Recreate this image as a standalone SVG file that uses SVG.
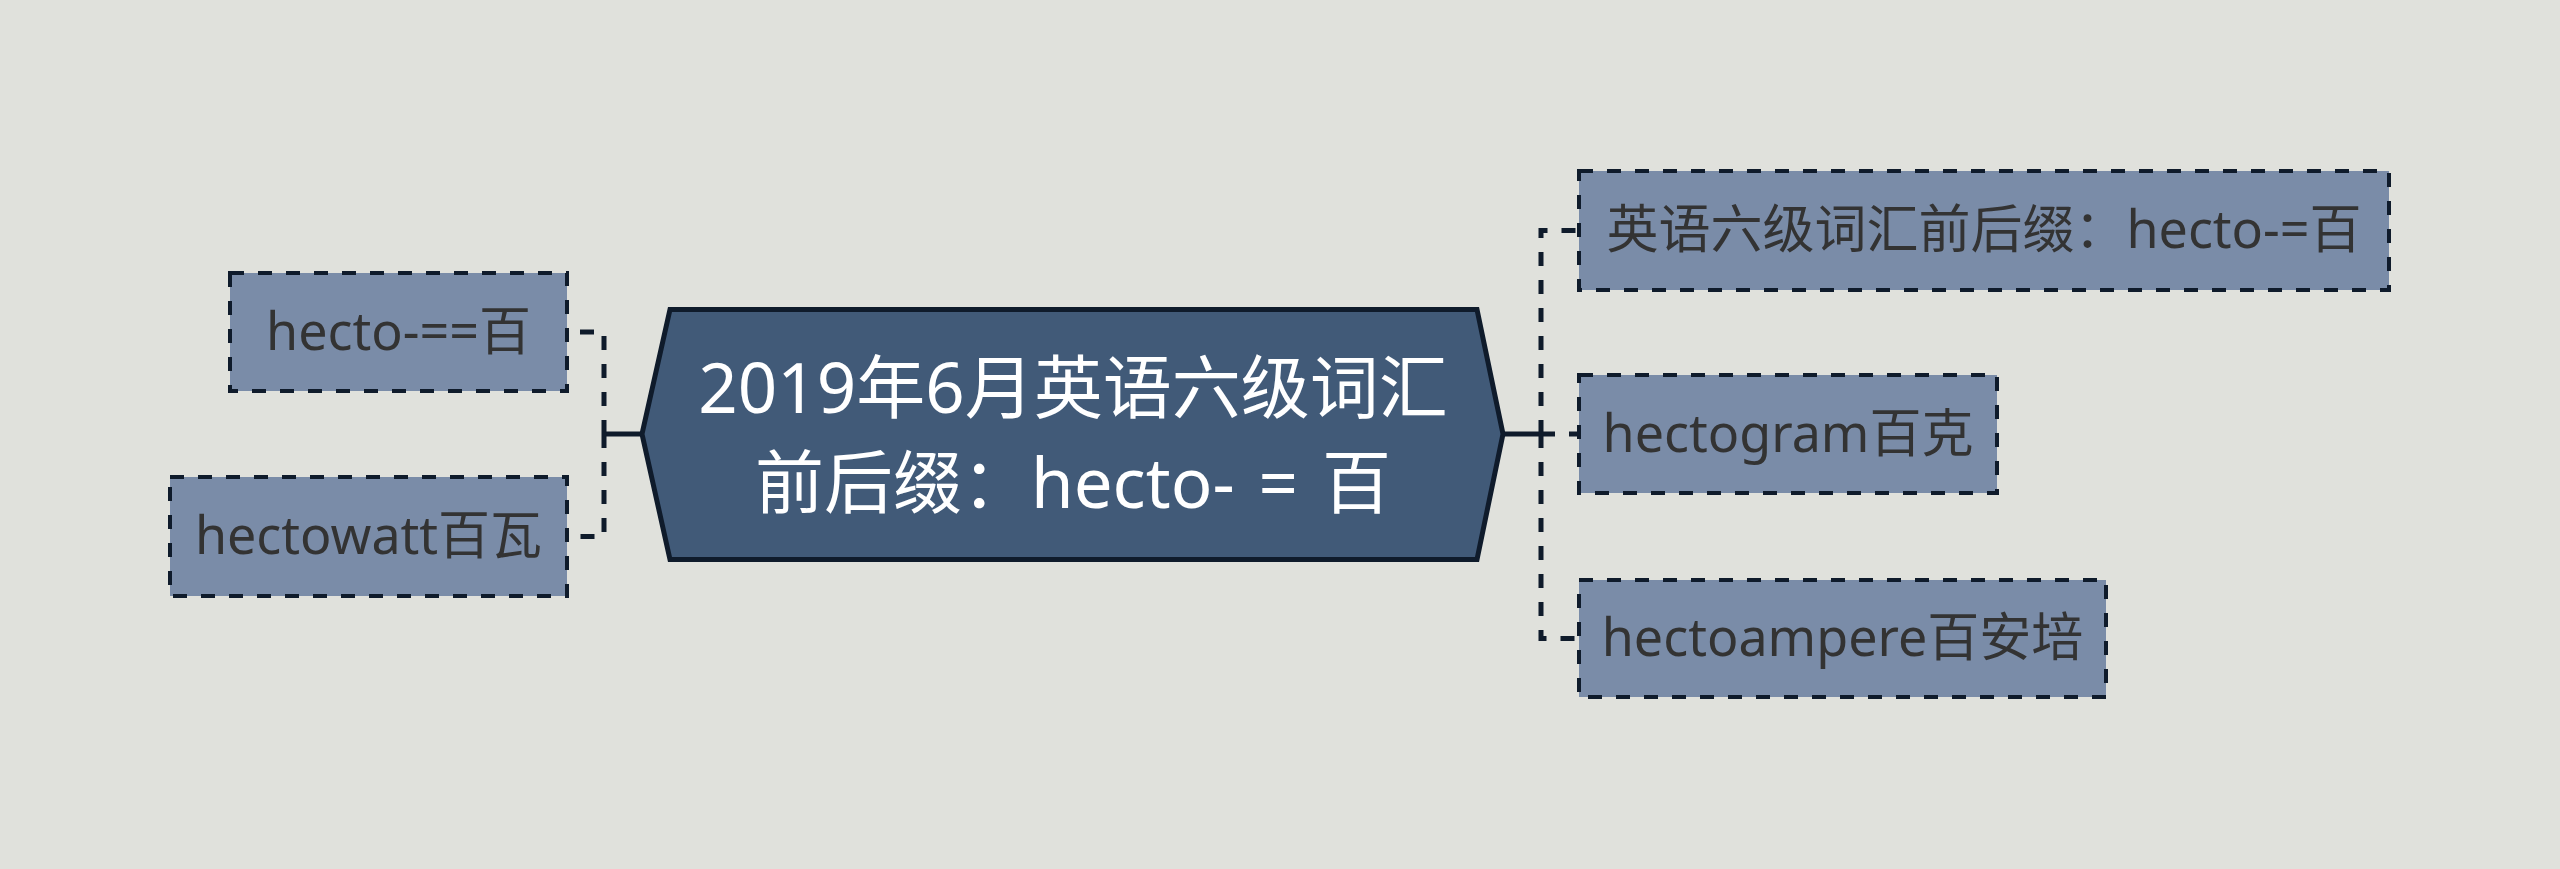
<svg xmlns="http://www.w3.org/2000/svg" width="2560" height="869" viewBox="0 0 2560 869">
  <style>
    .bg { fill: #e0e1dc; }
    .main { fill: #415a78; stroke: #0f1b2b; stroke-width: 5; stroke-linejoin: miter; }
    .main-text { fill: #ffffff; font-family: "Noto Sans", "Noto Sans CJK SC", sans-serif; font-size: 69px; text-anchor: middle; }
    .child { fill: #7a8ca8; stroke: #0f1b2b; stroke-width: 4; stroke-dasharray: 14 14; }
    .child-text { fill: #333333; font-family: "Noto Sans", "Noto Sans CJK SC", sans-serif; font-size: 52px; text-anchor: middle; }
    .conn-solid { fill: none; stroke: #0f1b2b; stroke-width: 5; }
    .conn-dash { fill: none; stroke: #0f1b2b; stroke-width: 5; stroke-dasharray: 14 14; }
  </style>
  <rect class="bg" x="0" y="0" width="2560" height="869"/>

  <g id="connectors">
    <path class="conn-solid" d="M604,434 H642"/>
    <path class="conn-solid" d="M1503,434 H1541"/>
    <path class="conn-dash" d="M604,434 V332 H567"/>
    <path class="conn-dash" d="M604,434 V536.5 H567"/>
    <path class="conn-dash" d="M1541,434 V230.5 H1579"/>
    <path class="conn-dash" d="M1541,434 H1579"/>
    <path class="conn-dash" d="M1541,434 V638.5 H1579"/>
  </g>

  <g id="node-main">
    <polygon class="main" points="642,434 670,309.5 1477,309.5 1503,434 1477,559.5 670,559.5"/>
    <text class="main-text" x="1073" y="413">2019年6月英语六级词汇</text>
    <text class="main-text" x="1073" y="508" word-spacing="6">前后缀：hecto- = 百</text>
  </g>

  <g id="node-left-1">
    <rect class="child" x="230" y="273" width="337" height="118"/>
    <text class="child-text" x="398.5" y="350">hecto-==百</text>
  </g>

  <g id="node-left-2">
    <rect class="child" x="170" y="477" width="397" height="119"/>
    <text class="child-text" x="368.5" y="554">hectowatt百瓦</text>
  </g>

  <g id="node-right-1">
    <rect class="child" x="1579" y="171" width="810" height="119"/>
    <text class="child-text" x="1984" y="248">英语六级词汇前后缀：hecto-=百</text>
  </g>

  <g id="node-right-2">
    <rect class="child" x="1579" y="375" width="418" height="118"/>
    <text class="child-text" x="1788" y="452">hectogram百克</text>
  </g>

  <g id="node-right-3">
    <rect class="child" x="1579" y="580" width="527" height="117"/>
    <text class="child-text" x="1842.5" y="656">hectoampere百安培</text>
  </g>
</svg>
